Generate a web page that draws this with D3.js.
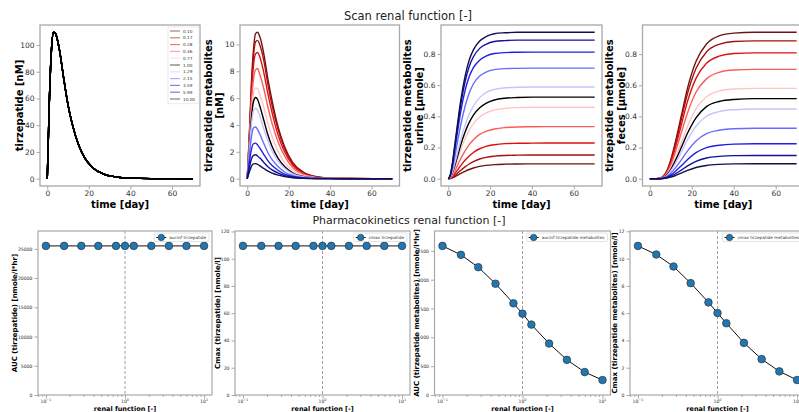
<!DOCTYPE html>
<html><head><meta charset="utf-8">
<script src="https://cdn.jsdelivr.net/npm/d3@7/dist/d3.min.js"></script>
<style>
body{margin:0;background:#fff;}
text{font-family:"DejaVu Sans",sans-serif;}
</style></head>
<body><svg id="c" width="799" height="412"></svg>
<script>
// ---------------- DATA ----------------
const times = [0,1,2,3,4,5,6,8,10,12,15,18,22,27,33,40,50,70];
const renal = [0.10,0.17,0.28,0.46,0.77,1.00,1.29,2.15,3.59,5.99,10.00];
const renalLabels = ["0.10","0.17","0.28","0.46","0.77","1.00","1.29","2.15","3.59","5.99","10.00"];
const lineColors = ["#6e1414","#a51010","#dc1010","#ff5a5a","#ffc4c4","#000000","#c4c4ff","#6a6aff","#2020e0","#1010a0","#10104e"];

const tirzepatide = [0,58,96,109.5,108.5,103,95,74,55,41,25.5,15.5,8,3.5,1.3,0.4,0.07,0];

const metabolites = [
 [0,3.3,7.1,9.6,10.8,10.9,10.6,9.3,7.4,5.8,3.8,2.4,1.2,0.49,0.16,0.04,0.01,0],
 [0,3.1,6.7,9.1,10.2,10.3,10.0,8.8,7.0,5.45,3.6,2.25,1.13,0.46,0.15,0.04,0.01,0],
 [0,2.9,6.3,8.4,9.3,9.4,9.1,7.9,6.3,4.9,3.2,2.0,1.0,0.4,0.13,0.03,0.01,0],
 [0,2.7,5.7,7.4,8.1,8.2,7.8,6.7,5.3,4.1,2.7,1.7,0.82,0.33,0.1,0.03,0,0],
 [0,2.5,4.9,6.3,6.75,6.7,6.3,5.3,4.1,3.1,2.0,1.2,0.6,0.24,0.07,0.02,0,0],
 [0,2.3,4.5,5.75,6.05,5.9,5.45,4.35,3.25,2.4,1.5,0.9,0.42,0.16,0.05,0.01,0,0],
 [0,2.1,4.0,5.05,5.25,5.1,4.7,3.7,2.8,2.05,1.28,0.77,0.36,0.14,0.04,0.01,0,0],
 [0,1.7,3.1,3.77,3.85,3.66,3.35,2.62,1.93,1.42,0.89,0.5,0.23,0.085,0.023,0.004,0,0],
 [0,1.2,2.17,2.6,2.65,2.52,2.3,1.8,1.33,0.98,0.61,0.34,0.16,0.058,0.016,0.003,0,0],
 [0,0.8,1.46,1.74,1.78,1.69,1.55,1.21,0.89,0.66,0.41,0.23,0.11,0.039,0.011,0.002,0,0],
 [0,0.5,0.92,1.1,1.12,1.06,0.97,0.76,0.56,0.41,0.26,0.15,0.067,0.025,0.007,0.001,0,0]
];

const urine = [
 [0,0.0014,0.0052,0.0114,0.019,0.0266,0.0342,0.0475,0.0589,0.0684,0.0789,0.0855,0.0903,0.0931,0.0943,0.0948,0.095,0.095],
 [0,0.0023,0.0084,0.0182,0.0304,0.0426,0.0547,0.076,0.0942,0.1094,0.1262,0.1368,0.1444,0.149,0.1509,0.1517,0.152,0.152],
 [0,0.0036,0.0131,0.0289,0.0482,0.0666,0.0851,0.118,0.145,0.168,0.192,0.207,0.218,0.225,0.227,0.228,0.229,0.229],
 [0,0.006,0.02,0.045,0.074,0.102,0.13,0.178,0.218,0.25,0.284,0.304,0.319,0.328,0.332,0.333,0.334,0.334],
 [0,0.009,0.031,0.067,0.107,0.148,0.188,0.256,0.31,0.353,0.396,0.421,0.441,0.451,0.456,0.458,0.458,0.458],
 [0,0.0105,0.0366,0.0785,0.1255,0.1726,0.2197,0.2981,0.3609,0.4079,0.455,0.4838,0.5047,0.5162,0.5209,0.523,0.523,0.523],
 [0,0.013,0.044,0.094,0.147,0.201,0.253,0.342,0.413,0.466,0.52,0.552,0.573,0.583,0.587,0.588,0.588,0.588],
 [0,0.019,0.064,0.133,0.206,0.28,0.349,0.463,0.549,0.609,0.659,0.684,0.7,0.706,0.708,0.709,0.709,0.709],
 [0,0.023,0.086,0.174,0.264,0.353,0.435,0.565,0.655,0.712,0.76,0.786,0.803,0.809,0.811,0.812,0.812,0.812],
 [0,0.026,0.097,0.195,0.293,0.391,0.48,0.622,0.72,0.782,0.836,0.862,0.88,0.886,0.889,0.889,0.889,0.889],
 [0,0.028,0.103,0.207,0.31,0.413,0.507,0.657,0.761,0.826,0.883,0.911,0.93,0.936,0.939,0.939,0.939,0.939]
];

const feces = [
 [0,0,0,0,0.001,0.004,0.011,0.047,0.122,0.226,0.404,0.583,0.752,0.865,0.917,0.935,0.94,0.94],
 [0,0,0,0,0.001,0.004,0.011,0.044,0.115,0.212,0.381,0.549,0.708,0.814,0.863,0.881,0.885,0.885],
 [0,0,0,0,0.001,0.003,0.01,0.04,0.104,0.192,0.345,0.498,0.644,0.741,0.787,0.804,0.808,0.808],
 [0,0,0,0,0.001,0.003,0.008,0.034,0.088,0.164,0.295,0.424,0.555,0.641,0.683,0.698,0.702,0.702],
 [0,0,0,0,0.001,0.002,0.006,0.027,0.069,0.128,0.231,0.336,0.448,0.526,0.563,0.576,0.58,0.58],
 [0,0,0,0,0.001,0.002,0.005,0.023,0.059,0.111,0.2,0.293,0.391,0.463,0.496,0.509,0.514,0.514],
 [0,0,0,0,0,0.001,0.004,0.019,0.05,0.094,0.171,0.251,0.337,0.401,0.431,0.443,0.448,0.448],
 [0,0,0,0,0,0.001,0.003,0.013,0.035,0.066,0.121,0.179,0.242,0.289,0.311,0.321,0.324,0.324],
 [0,0,0,0,0,0.001,0.002,0.009,0.024,0.045,0.083,0.123,0.167,0.2,0.215,0.222,0.224,0.224],
 [0,0,0,0,0,0,0.001,0.006,0.016,0.03,0.055,0.082,0.111,0.133,0.143,0.148,0.149,0.149],
 [0,0,0,0,0,0,0.001,0.004,0.01,0.019,0.036,0.053,0.072,0.085,0.092,0.095,0.096,0.096]
];

const aucTirz = [25500,25500,25500,25500,25500,25500,25500,25500,25500,25500,25500];
const cmaxTirz = [109.4,109.4,109.4,109.4,109.4,109.4,109.4,109.4,109.4,109.4,109.4];
const aucMet = [2586,2431,2217,1930,1590,1411,1221,893,610,397,259];
const cmaxMet = [10.93,10.3,9.42,8.2,6.79,6.01,5.26,3.82,2.63,1.73,1.1];

const timeTicks = [0,20,40,60];
const title1 = "Scan renal function [-]";
const title2 = "Pharmacokinetics renal function [-]";

// ---------------- DRAW ----------------
const svg = d3.select("#c");
const FRAME = "#a8a8a8", TICKTXT = "#333";

svg.append("text").attr("x",408).attr("y",19.5).attr("text-anchor","middle")
  .attr("font-size",11.5).attr("fill","#222").text(title1);
svg.append("text").attr("x",409).attr("y",224).attr("text-anchor","middle")
  .attr("font-size",11).attr("fill","#222").text(title2);

function styleAxis(g, fs){
  g.select(".domain").remove();
  g.selectAll(".tick line").attr("stroke",FRAME).attr("stroke-width",1);
  g.selectAll(".tick text").attr("fill",TICKTXT).attr("font-size",fs).attr("font-family","DejaVu Sans");
}

function timePanel(box, series, ylines, yticks, yfmt, legend, colorOf){
  const g = svg.append("g");
  const allV = series.flat();
  const [tmin,tmax] = d3.extent(times), [vmin,vmax] = d3.extent(allV);
  const tp=(tmax-tmin)*0.05, vp=(vmax-vmin)*0.05;
  const x = d3.scaleLinear().domain([tmin-tp,tmax+tp]).range([box.l,box.r]);
  const y = d3.scaleLinear().domain([vmin-vp,vmax+vp]).range([box.b,box.t]);
  const clipId = "clip"+Math.round(box.l);
  svg.append("clipPath").attr("id",clipId).append("rect")
    .attr("x",box.l).attr("y",box.t).attr("width",box.r-box.l).attr("height",box.b-box.t);
  const line = d3.line().x((d,i)=>x(times[i])).y(d=>y(d)).curve(d3.curveMonotoneX);
  const lg = g.append("g").attr("clip-path",`url(#${clipId})`);
  series.forEach((s,i)=>{
    lg.append("path").attr("d",line(s)).attr("fill","none")
      .attr("stroke",colorOf(i)).attr("stroke-width",1.4);
  });
  const xa = g.append("g").attr("transform",`translate(0,${box.b})`)
    .call(d3.axisBottom(x).tickValues(timeTicks).tickSize(3.5).tickPadding(1).tickFormat(d3.format("d")));
  styleAxis(xa,7.5);
  const ya = g.append("g").attr("transform",`translate(${box.l},0)`)
    .call(d3.axisLeft(y).tickValues(yticks).tickSize(3.5).tickPadding(2).tickFormat(yfmt));
  styleAxis(ya,7.5);
  g.append("rect").attr("x",box.l).attr("y",box.t).attr("width",box.r-box.l).attr("height",box.b-box.t)
    .attr("fill","none").attr("stroke",FRAME).attr("stroke-width",1.3);
  g.append("text").attr("x",(box.l+box.r)/2).attr("y",207.5).attr("text-anchor","middle")
    .attr("font-size",10).attr("font-weight","bold").text("time [day]");
  const cy=(box.t+box.b)/2;
  ylines.forEach((t,k)=>{
    const xx = box.lx + k*11.5;
    g.append("text").attr("transform",`translate(${xx},${cy}) rotate(-90)`).attr("text-anchor","middle")
      .attr("dominant-baseline","central").attr("font-size",10).attr("font-weight","bold").text(t);
  });
  if(legend){
    const lx=168, ly=27, rowH=6.8;
    g.append("rect").attr("x",lx).attr("y",ly).attr("width",31).attr("height",rowH*renal.length+2)
      .attr("fill","#fff").attr("stroke","#ddd").attr("stroke-width",0.6);
    renalLabels.forEach((lab,i)=>{
      const yy = ly+4+i*rowH;
      g.append("line").attr("x1",lx+2).attr("x2",lx+12).attr("y1",yy).attr("y2",yy)
        .attr("stroke",lineColors[i]).attr("stroke-width",1.2).attr("stroke-opacity",0.55);
      g.append("text").attr("x",lx+15).attr("y",yy).attr("dominant-baseline","central")
        .attr("font-size",4.2).attr("fill","#333").text(lab);
    });
  }
}

const f1 = d3.format(".1f");
timePanel({l:40,r:200,t:25,b:186,lx:19}, renal.map(()=>tirzepatide), ["tirzepatide [nM]"], [0,20,40,60,80,100], d3.format("d"), true, ()=>"#000");
timePanel({l:240,r:399.5,t:25,b:186,lx:208}, metabolites, ["tirzepatide metabolites","[nM]"], [0,2,4,6,8,10], d3.format("d"), false, i=>lineColors[i]);
timePanel({l:441,r:602,t:25,b:186,lx:407.5}, urine, ["tirzepatide metabolites","urine [µmole]"], [0,0.2,0.4,0.6,0.8], f1, false, i=>lineColors[i]);
timePanel({l:642.5,r:804,t:25,b:186,lx:609.5}, feces, ["tirzepatide metabolites","feces [µmole]"], [0,0.2,0.4,0.6,0.8], f1, false, i=>lineColors[i]);

const supers = {"-1":"−1","0":"0","1":"1"};
function pkPanel(box, values, ylabel, yticks, legendText){
  const g = svg.append("g");
  const x = d3.scaleLog().domain([Math.pow(10,-1.1),Math.pow(10,1.1)]).range([box.l,box.r]);
  const y = d3.scaleLinear().domain([0,d3.max(values)*1.1]).range([box.b,box.t]);
  const clipId = "pclip"+Math.round(box.l);
  svg.append("clipPath").attr("id",clipId).append("rect")
    .attr("x",box.l).attr("y",box.t).attr("width",box.r-box.l).attr("height",box.b-box.t);
  const minors=[];
  for(let e=-2;e<=1;e++) for(let m=2;m<=9;m++){const v=m*Math.pow(10,e); if(v>x.domain()[0]&&v<x.domain()[1]) minors.push(v);}
  const xm = g.append("g").attr("transform",`translate(0,${box.b})`)
    .call(d3.axisBottom(x).tickValues(minors).tickSize(2).tickFormat(""));
  styleAxis(xm,4.5);
  const xa = g.append("g").attr("transform",`translate(0,${box.b})`)
    .call(d3.axisBottom(x).tickValues([0.1,1,10]).tickSize(3.5).tickPadding(2).tickFormat(""));
  styleAxis(xa,4.5);
  [0.1,1,10].forEach(v=>{
    const e = Math.round(Math.log10(v));
    const t = g.append("text").attr("x",x(v)).attr("y",box.b+8).attr("text-anchor","middle")
      .attr("font-size",4.6).attr("fill",TICKTXT);
    t.append("tspan").text("10");
    t.append("tspan").attr("dy",-2).attr("font-size",3.4).text(supers[String(e)]);
  });
  const ya = g.append("g").attr("transform",`translate(${box.l},0)`)
    .call(d3.axisLeft(y).tickValues(yticks).tickSize(3.5).tickPadding(2).tickFormat(d3.format("d")));
  styleAxis(ya,4.6);
  const pg = g.append("g").attr("clip-path",`url(#${clipId})`);
  pg.append("line").attr("x1",x(1)).attr("x2",x(1)).attr("y1",box.t).attr("y2",box.b)
    .attr("stroke","#888").attr("stroke-width",0.8).attr("stroke-dasharray","3,2");
  const line = d3.line().x((d,i)=>x(renal[i])).y(d=>y(d));
  pg.append("path").attr("d",line(values)).attr("fill","none").attr("stroke","#111").attr("stroke-width",1);
  values.forEach((v,i)=>{
    pg.append("circle").attr("cx",x(renal[i])).attr("cy",y(v)).attr("r",3.8)
      .attr("fill","#1f77b4").attr("stroke","#333").attr("stroke-width",0.7);
  });
  const lgG = pg.append("g");
  const tmp = lgG.append("text").attr("font-size",4.2).text(legendText);
  const tw = tmp.node().getComputedTextLength(); tmp.remove();
  const bw = tw+18, bx = box.r-3-bw, by = box.t+2;
  lgG.append("rect").attr("x",bx).attr("y",by).attr("width",bw).attr("height",8.5).attr("rx",1)
    .attr("fill","#fff").attr("stroke","#d0d0d0").attr("stroke-width",0.6);
  lgG.append("line").attr("x1",bx+2).attr("x2",bx+12).attr("y1",by+4.5).attr("y2",by+4.5).attr("stroke","#111").attr("stroke-width",1);
  lgG.append("circle").attr("cx",bx+7).attr("cy",by+4.5).attr("r",3.2).attr("fill","#1f77b4").attr("stroke","#333").attr("stroke-width",0.6);
  lgG.append("text").attr("x",bx+15).attr("y",by+4.5).attr("dominant-baseline","central")
    .attr("font-size",4.2).attr("fill","#333").text(legendText);
  g.append("rect").attr("x",box.l).attr("y",box.t).attr("width",box.r-box.l).attr("height",box.b-box.t)
    .attr("fill","none").attr("stroke",FRAME).attr("stroke-width",1.2);
  g.append("text").attr("x",(box.l+box.r)/2).attr("y",411).attr("text-anchor","middle")
    .attr("font-size",6.5).attr("font-weight","bold").text("renal function [-]");
  g.append("text").attr("transform",`translate(${box.lx},${(box.t+box.b)/2}) rotate(-90)`).attr("text-anchor","middle")
    .attr("dominant-baseline","central").attr("font-size",7).attr("font-weight","bold").text(ylabel);
}

pkPanel({l:38,r:212,t:231,b:395,lx:15}, aucTirz, "AUC (tirzepatide) [nmole/l*hr]", [0,5000,10000,15000,20000,25000], "aucinf tirzepatide");
pkPanel({l:235,r:410,t:231,b:395,lx:218}, cmaxTirz, "Cmax (tirzepatide) [nmole/l]", [0,20,40,60,80,100,120], "cmax tirzepatide");
pkPanel({l:434.5,r:610.5,t:231,b:395,lx:417}, aucMet, "AUC (tirzepatide metabolites) [nmole/l*hr]", [0,500,1000,1500,2000,2500], "aucinf tirzepatide metabolites");
pkPanel({l:630,r:805,t:231,b:395,lx:615}, cmaxMet, "Cmax (tirzepatide metabolites) [nmole/l]", [0,2,4,6,8,10,12], "cmax tirzepatide metabolites");
</script></body></html>
